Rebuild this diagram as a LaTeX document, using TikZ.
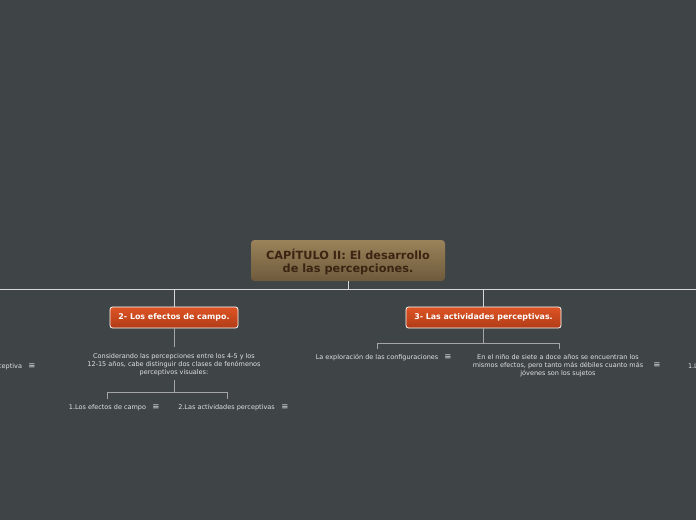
\documentclass[tikz,border=0pt]{standalone}
\usepackage{fontspec}
\setmainfont{DejaVu Sans}
\begin{document}
\begin{tikzpicture}[x=1pt,y=-1pt,
  every node/.style={inner sep=0pt, outer sep=0pt},
  subbox/.style={rounded corners=2.5pt, draw=white, line width=0.8pt, top color=otop, bottom color=obot, text=white, font=\fontsize{7.9}{9}\selectfont\bfseries},
  leaf/.style={text=leaftext, font=\fontsize{6.5}{8}\selectfont, align=center},
  icon/.style={text=leaftext, font=\fontsize{8.5}{8}\selectfont},
  mainline/.style={draw=lineA, line width=0.9pt},
  subline/.style={draw=lineB, line width=0.9pt}]
\definecolor{bg}{RGB}{63,69,70}
\definecolor{mtop}{RGB}{154,131,90}
\definecolor{mbot}{RGB}{110,90,60}
\definecolor{mtext}{RGB}{58,36,18}
\definecolor{otop}{RGB}{222,84,36}
\definecolor{obot}{RGB}{176,60,24}
\definecolor{leaftext}{RGB}{225,225,225}
\definecolor{lineA}{RGB}{215,215,215}
\definecolor{lineB}{RGB}{165,165,165}
\fill[bg] (0,0) rectangle (696,520);
\useasboundingbox (0,0) rectangle (696,520);

% main node
\shade[top color=mtop, bottom color=mbot, rounded corners=3.5pt] (251,240) rectangle (445,281);
\node[text=mtext, font=\fontsize{11.3}{13}\selectfont\bfseries, align=center] (main) at (348,261.5) {CAPÍTULO II: El desarrollo\\de las percepciones.};
\coordinate (mainbot) at (348,281);

% main line
\coordinate (bl) at (0,289);
\coordinate (br) at (696,289);
\coordinate (bm) at (348,289);
\draw[mainline] (bl) -- (br);
\draw[mainline] (mainbot) -- (bm);

% child boxes
\node[subbox, minimum width=128pt, minimum height=21pt] (c1) at (174,317.5) {2- Los efectos de campo.};
\node[subbox, minimum width=155pt, minimum height=21pt] (c2) at (483.5,317.5) {3- Las actividades perceptivas.};
\draw[mainline] (174,289) -- (c1.north);
\draw[mainline] (483.5,289) -- (c2.north);

% child 1 subtree
\node[leaf] (t1) at (174,364.5) {Considerando las percepciones entre los 4-5 y los\\12-15 años, cabe distinguir dos clases de fenómenos\\perceptivos visuales:};
\draw[subline] (c1.south) -- (174,347);
\coordinate (t1b) at (174,380);
\coordinate (j1) at (174,392.5);
\draw[subline] (t1b) -- (j1);
\node[leaf] (g1) at (107.5,407.5) {1.Los efectos de campo};
\node[icon] (g1i) at (156,407.5) {≡};
\node[leaf] (g2) at (226.5,407.5) {2.Las actividades perceptivas};
\node[icon] (g2i) at (285,407.5) {≡};
\draw[subline] (107,398.5) -- (107,392.5) -- (227,392.5) -- (227,398.5);

% child 2 subtree
\coordinate (j2) at (483.5,343);
\draw[subline] (c2.south) -- (j2);
\draw[subline] (377,348.5) -- (377,343) -- (559,343) -- (559,348.5);
\node[leaf] (h1) at (377,357.5) {La exploración de las configuraciones};
\node[icon] (h1i) at (448,357.5) {≡};
\node[leaf] (h2) at (558,365.5) {En el niño de siete a doce años se encuentran los\\mismos efectos, pero tanto más débiles cuanto más\\jóvenes son los sujetos};
\node[icon] (h2i) at (657,365.5) {≡};

% edge fragments
\node[leaf, anchor=east] (l1) at (22,366.5) {perceptiva};
\node[icon] (l1i) at (32,366.5) {≡};
\node[leaf, anchor=west] (r1) at (688,366.5) {1.La};
\end{tikzpicture}
\end{document}
